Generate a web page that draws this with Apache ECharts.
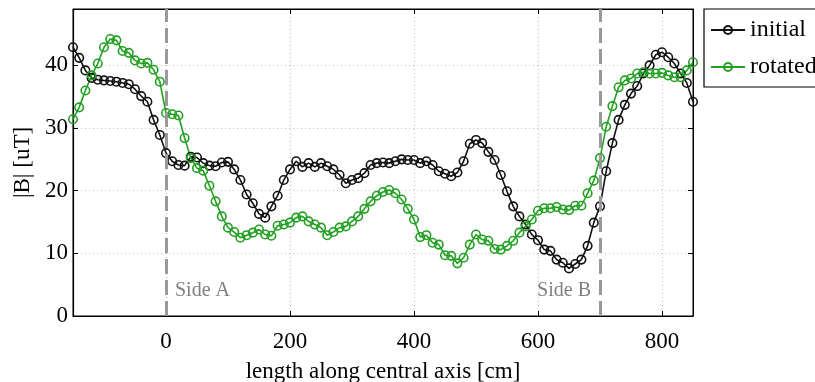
<!DOCTYPE html>
<html>
<head>
<meta charset="utf-8">
<script src="https://cdn.jsdelivr.net/npm/echarts@6/dist/echarts.min.js"></script>
<style>
  html, body { margin: 0; padding: 0; background: #fff; }
  #chart { width: 815px; height: 382px; }
</style>
</head>
<body>
<div id="chart"></div>
<script>
// position along the axis [cm]
const positions = [
  -150, -140, -130, -120, -110, -100, -90, -80, -70, -60,
  -50, -40, -30, -20, -10, 0, 10, 20, 30, 40,
  50, 60, 70, 80, 90, 100, 110, 120, 130, 140,
  150, 160, 170, 180, 190, 200, 210, 220, 230, 240,
  250, 260, 270, 280, 290, 300, 310, 320, 330, 340,
  350, 360, 370, 380, 390, 400, 410, 420, 430, 440,
  450, 460, 470, 480, 490, 500, 510, 520, 530, 540,
  550, 560, 570, 580, 590, 600, 610, 620, 630, 640,
  650, 660, 670, 680, 690, 700, 710, 720, 730, 740,
  750, 760, 770, 780, 790, 800, 810, 820, 830, 840,
  850
]

// |B| [uT], initial orientation
const initialB = [
  42.9, 41.2, 39.2, 38.0, 37.7, 37.6, 37.5, 37.4, 37.2, 37.0,
  36.2, 35.1, 34.2, 31.3, 28.9, 26.0, 24.7, 24.1, 24.0, 25.4,
  25.3, 24.4, 24.0, 23.9, 24.5, 24.6, 23.4, 21.7, 19.4, 18.0,
  16.3, 15.7, 17.5, 19.2, 21.7, 23.4, 24.7, 23.8, 24.4, 23.8,
  24.4, 23.9, 23.4, 22.5, 21.2, 21.7, 22.0, 22.8, 24.1, 24.4,
  24.5, 24.4, 24.7, 25.0, 24.9, 24.9, 24.4, 24.7, 24.1, 23.1,
  22.7, 22.3, 22.9, 24.7, 27.5, 28.1, 27.6, 26.2, 24.9, 22.5,
  19.9, 17.5, 15.9, 14.6, 13.0, 12.1, 10.6, 10.4, 9.0, 8.5,
  7.6, 8.3, 9.0, 11.2, 14.9, 17.5, 23.1, 27.6, 31.3, 33.7,
  35.5, 36.7, 38.7, 40.0, 41.7, 42.1, 41.3, 40.3, 38.7, 37.2,
  34.2
]

// |B| [uT], rotated
const rotatedB = [
  31.4, 33.3, 36.0, 38.4, 40.3, 42.9, 44.2, 44.0, 42.3, 42.0,
  40.8, 40.3, 40.4, 39.3, 37.4, 32.4, 32.2, 32.0, 28.4, 25.2,
  23.6, 23.2, 20.8, 18.3, 15.9, 14.1, 13.4, 12.5, 12.9, 13.3,
  13.8, 13.0, 12.8, 14.4, 14.6, 14.9, 15.7, 15.9, 15.1, 14.6,
  14.1, 12.9, 13.4, 14.1, 14.3, 15.1, 15.9, 17.1, 18.3, 19.2,
  19.8, 20.1, 19.6, 18.6, 17.1, 15.4, 12.6, 12.9, 11.7, 11.4,
  9.7, 9.6, 8.4, 9.3, 11.4, 13.0, 12.2, 12.0, 10.7, 10.6,
  11.2, 12.0, 13.3, 14.3, 15.4, 16.8, 17.2, 17.2, 17.4, 17.0,
  16.9, 17.6, 17.6, 19.6, 21.6, 25.2, 30.2, 33.5, 36.5, 37.6,
  37.9, 38.7, 38.9, 38.7, 38.7, 38.8, 38.4, 38.1, 38.1, 39.2,
  40.5
]

const xTicks = [0, 200, 400, 600, 800]
const yTicks = [0, 10, 20, 30, 40]
const sideLines = [0, 700]
const sideLabels = ['Side A', 'Side B']

const FONT = 'Liberation Serif'

const chart = echarts.init(document.getElementById('chart'))

const gridLine = { show: true, lineStyle: { color: '#c4c4c4', type: [1, 3], width: 1.2 } }
const tickIn = { show: true, inside: true, length: 5, lineStyle: { color: '#000' } }

const option = {
  animation: false,
  backgroundColor: '#fff',
  textStyle: { fontFamily: FONT },
  grid: {
    left: 73, right: 122, top: 9, bottom: 66,
    outerBoundsMode: 'none',
    show: true, borderColor: '#000', borderWidth: 1, backgroundColor: 'transparent'
  },
  legend: {
    orient: 'vertical',
    left: 704,
    top: 9,
    padding: [9, 30, 8, 6],
    itemGap: 13,
    itemWidth: 34,
    itemHeight: 10,
    borderColor: '#000',
    borderWidth: 1.2,
    textStyle: { fontFamily: FONT, fontSize: 24, color: '#000' },
    data: ['initial', 'rotated']
  },
  xAxis: [
    {
      type: 'value',
      min: -150,
      max: 850,
      name: 'length along central axis [cm]',
      nameLocation: 'middle',
      nameGap: 44,
      nameTextStyle: { fontFamily: FONT, fontSize: 23, color: '#000' },
      axisLine: { show: true, onZero: false, lineStyle: { color: '#000', width: 1.2 } },
      axisTick: Object.assign({ customValues: xTicks }, tickIn),
      axisLabel: { customValues: xTicks, fontFamily: FONT, fontSize: 23, color: '#000', margin: 14 },
      splitLine: gridLine
    },
    {
      type: 'value',
      position: 'top',
      min: -150,
      max: 850,
      axisLine: { show: true, onZero: false, lineStyle: { color: '#000' } },
      axisTick: Object.assign({ customValues: xTicks }, tickIn),
      axisLabel: { show: false },
      splitLine: { show: false }
    }
  ],
  yAxis: [
    {
      type: 'value',
      min: 0,
      max: 49,
      name: '|B| [uT]',
      nameLocation: 'middle',
      nameGap: 29,
      nameTextStyle: { fontFamily: FONT, fontSize: 23, color: '#000' },
      axisLine: { show: true, onZero: false, lineStyle: { color: '#000', width: 1.2 } },
      axisTick: Object.assign({ customValues: yTicks }, tickIn),
      axisLabel: { customValues: yTicks, fontFamily: FONT, fontSize: 23, color: '#000', margin: 5 },
      splitLine: gridLine
    },
    {
      type: 'value',
      position: 'right',
      min: 0,
      max: 49,
      axisLine: { show: true, onZero: false, lineStyle: { color: '#000' } },
      axisTick: Object.assign({ customValues: yTicks }, tickIn),
      axisLabel: { show: false },
      splitLine: { show: false }
    }
  ],
  series: [
    {
      name: 'initial',
      type: 'line',
      data: positions.map((x, i) => [x, initialB[i]]),
      symbol: 'circle',
      symbolSize: 8.5,
      showAllSymbol: true,
      lineStyle: { color: '#111', width: 1.6 },
      itemStyle: { color: 'rgba(255,255,255,0)', borderColor: '#111', borderWidth: 1.6 },
      emphasis: { disabled: true },
      markLine: {
        silent: true,
        symbol: 'none',
        label: { show: false },
        lineStyle: { color: '#999', type: [15, 6], width: 3 },
        data: sideLines.map(v => ({ xAxis: v }))
      },
      markPoint: {
        silent: true,
        symbol: 'circle',
        symbolSize: 0,
        data: [
          {
            coord: [sideLines[0], 4.1],
            label: { show: true, formatter: sideLabels[0], position: 'right', distance: 9,
              fontFamily: FONT, fontSize: 20, color: '#808080' }
          },
          {
            coord: [sideLines[1], 4.1],
            label: { show: true, formatter: sideLabels[1], position: 'left', distance: 9,
              fontFamily: FONT, fontSize: 20, color: '#808080' }
          }
        ]
      }
    },
    {
      name: 'rotated',
      type: 'line',
      data: positions.map((x, i) => [x, rotatedB[i]]),
      symbol: 'circle',
      symbolSize: 8.5,
      showAllSymbol: true,
      lineStyle: { color: '#22a022', width: 1.6 },
      itemStyle: { color: 'rgba(255,255,255,0)', borderColor: '#22a022', borderWidth: 1.6 },
      emphasis: { disabled: true }
    }
  ]
}

chart.setOption(option)
</script>
</body>
</html>
